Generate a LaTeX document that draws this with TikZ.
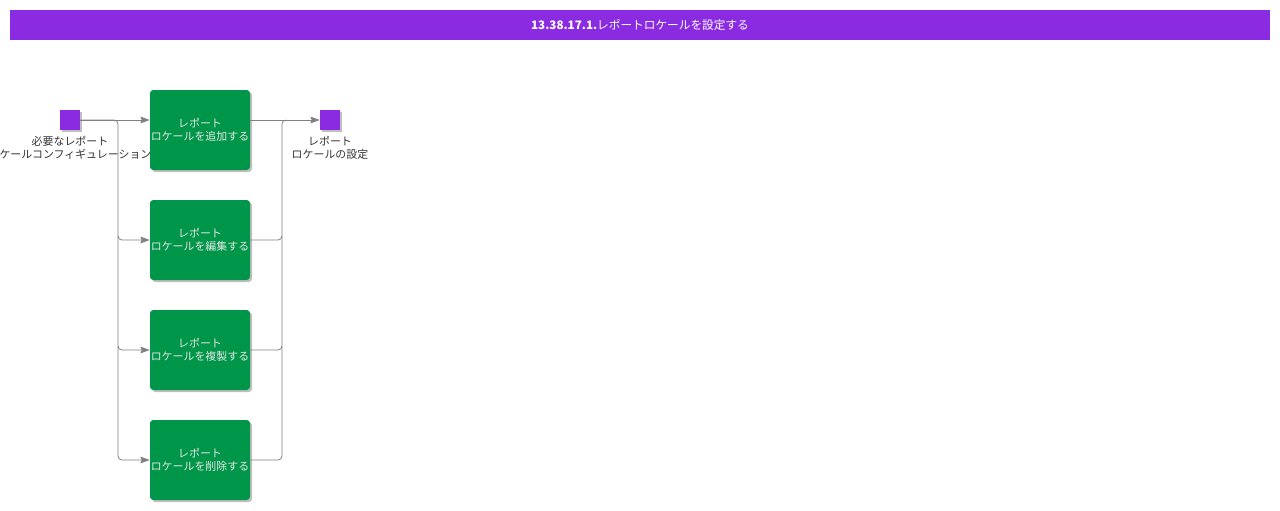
\documentclass[tikz,border=0pt]{standalone}
\usepackage{fontspec}
\setmainfont{Noto Sans CJK JP}
\usetikzlibrary{arrows.meta, positioning, calc, shadows}
\definecolor{hdrpurple}{HTML}{8A2BE2}
\definecolor{actgreen}{HTML}{009649}
\definecolor{linegray}{HTML}{808080}
\definecolor{acttext}{HTML}{E6E6E6}

\begin{document}
\begin{tikzpicture}[x=0.75pt, y=-0.75pt,
	act/.style={fill=actgreen, rounded corners=2.5pt, minimum width=75pt, minimum height=60pt, inner sep=0pt, align=center, text=acttext, font=\fontsize{8.2}{9.75}\selectfont, drop shadow={shadow xshift=1.5pt, shadow yshift=-1.5pt, fill=black, opacity=0.25}},
	pin/.style={fill=hdrpurple, minimum size=15pt, inner sep=0pt, drop shadow={shadow xshift=1.5pt, shadow yshift=-1.5pt, fill=black, opacity=0.25}},
	lbl/.style={align=center, text=black!80, inner sep=0pt, font=\fontsize{8.2}{9.75}\selectfont},
	flow/.style={draw=linegray, line width=0.6pt, rounded corners=3pt},
	tip/.style={-{Stealth[length=7pt, width=5pt, inset=1pt]}}]
	
	\useasboundingbox (0,0) rectangle (1280,510);
	
	% Header
	\fill[hdrpurple] (10,10) rectangle (1270,40);
	\node[text=white, font=\fontsize{8.75}{11}\selectfont] (title) at (640,25) {\textbf{13.38.17.1.}レポートロケールを設定する};
	
	% Start and end pins
	\node[pin] (start) at (70,120) {};
	\node[lbl, below=4pt of start] (startlbl) {必要なレポート\\ロケールコンフィギュレーション};
	\node[pin] (stop) at (330,120) {};
	\node[lbl, below=4pt of stop] (stoplbl) {レポート\\ロケールの設定};
	
	% Activities
	\foreach \n/\y/\t in {add/130/追加, edit/240/編集, copy/350/複製, del/460/削除} {
		\node[act] (\n) at (200,\y) {レポート\\ロケールを{\t}する};
	}
	
	% Fork
	\coordinate (split) at (118,120);
	\draw[flow, tip] (start.east) -- (start -| add.west);
	\draw[flow, tip] (start.east) -- (split) |- (del.west);
	\foreach \n in {edit, copy} {
		\draw[flow, tip] ($(split |- \n.west)+(0,-4)$) |- (\n.west);
	}
	
	% Join
	\coordinate (join) at (282,120);
	\draw[flow, tip] (stop -| add.east) -- (stop.west);
	\draw[flow] (del.east) -| (join) -- ($(join)+(4,0)$);
	\foreach \n in {edit, copy} {
		\draw[flow] (\n.east) -| ($(join |- \n.east)+(0,-4)$);
	}
	
\end{tikzpicture}
\end{document}
